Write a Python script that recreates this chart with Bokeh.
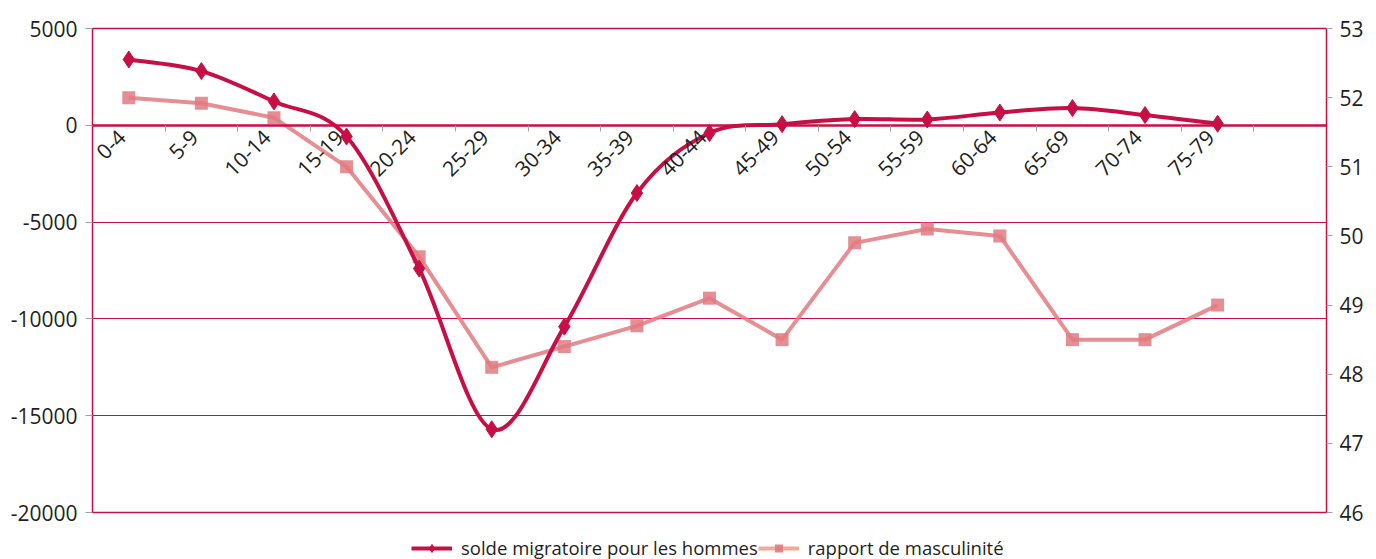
import numpy as np
from bokeh.plotting import figure
from bokeh.layouts import column
from bokeh.models import Range1d, LinearAxis, FixedTicker, Legend, LegendItem
from bokeh.embed import file_html
from bokeh.resources import INLINE

# ---- data ----
age_groups = ["0-4", "5-9", "10-14", "15-19", "20-24", "25-29", "30-34", "35-39",
              "40-44", "45-49", "50-54", "55-59", "60-64", "65-69", "70-74", "75-79"]
solde_hommes = [3400, 2800, 1230, -580, -7400, -15700, -10400, -3500,
                -400, 60, 320, 300, 660, 890, 530, 80]
rapport_masculinite = [52.0, 51.92, 51.71, 51.0, 49.7, 48.1, 48.4, 48.7,
                       49.1, 48.5, 49.9, 50.1, 50.0, 48.5, 48.5, 49.0]
left_ticks = [-20000, -15000, -10000, -5000, 0, 5000]
left_tick_labels = ["-20000", "-15000", "-10000", "-5000", "0", "5000"]
right_ticks = [46, 47, 48, 49, 50, 51, 52, 53]
n_slots = 17

CRIMSON = "#c70f45"
ROSE = "#e07a80"
TXT = "#231f20"
GREY = "#a0a0a0"
FONT = "Open Sans"

xs = [i + 0.5 for i in range(len(age_groups))]
label_pos = [x - 0.1 for x in xs]

p = figure(width=1376, height=525, x_range=Range1d(0, n_slots),
           y_range=Range1d(left_ticks[0], left_ticks[-1]),
           output_backend="svg", toolbar_location=None,
           min_border_left=92, min_border_right=50, min_border_top=28,
           min_border_bottom=13, background_fill_color="white",
           border_fill_color="white")
p.extra_y_ranges = {"right": Range1d(right_ticks[0], right_ticks[-1])}

p.outline_line_color = CRIMSON
p.outline_line_width = 1.5
p.xgrid.visible = False

# left axis
ya = p.yaxis[0]
ya.ticker = FixedTicker(ticks=left_ticks)
ya.major_label_overrides = {t: s for t, s in zip(left_ticks, left_tick_labels)}
ya.axis_line_color = None
ya.major_tick_line_color = GREY
ya.major_tick_out = 7
ya.major_tick_in = 0
ya.minor_tick_line_color = None
ya.major_label_standoff = 8
ya.major_label_text_font = FONT
ya.major_label_text_font_size = "21px"
ya.major_label_text_color = TXT
p.ygrid.grid_line_color = CRIMSON
p.ygrid.grid_line_width = 1

# right axis
ra = LinearAxis(y_range_name="right", ticker=FixedTicker(ticks=right_ticks))
ra.axis_line_color = None
ra.major_tick_line_color = GREY
ra.major_tick_out = 6
ra.major_tick_in = 0
ra.minor_tick_line_color = None
ra.major_label_standoff = 7
ra.major_label_text_font = FONT
ra.major_label_text_font_size = "21px"
ra.major_label_text_color = TXT
p.add_layout(ra, "right")

# category axis crossing at zero
xa = p.xaxis[0]
xa.fixed_location = 0
xa.ticker = FixedTicker(ticks=label_pos, minor_ticks=list(range(1, n_slots)))
xa.major_label_overrides = {x: g for x, g in zip(label_pos, age_groups)}
xa.major_label_orientation = np.pi / 4
xa.major_tick_line_color = None
xa.major_tick_out = 0
xa.major_tick_in = 0
xa.minor_tick_line_color = GREY
xa.minor_tick_out = 6
xa.minor_tick_in = 0
xa.axis_line_color = CRIMSON
xa.axis_line_width = 2.5
xa.major_label_standoff = 2
xa.major_label_text_font = FONT
xa.major_label_text_font_size = "21px"
xa.major_label_text_color = TXT

# rapport de masculinité (right axis)
p.line(xs, rapport_masculinite, y_range_name="right",
       line_color=ROSE, line_width=4, line_alpha=0.85)
p.scatter(xs, rapport_masculinite, y_range_name="right", marker="square",
          size=13, fill_color=ROSE, line_color=None, fill_alpha=0.85)

# solde migratoire (smoothed, Excel-like bezier)
n = len(xs)
x0, y0, x1, y1, cx0, cy0, cx1, cy1 = ([] for _ in range(8))
for i in range(n - 1):
    ip = max(i - 1, 0)
    i2 = min(i + 2, n - 1)
    x0.append(xs[i]); y0.append(solde_hommes[i])
    x1.append(xs[i + 1]); y1.append(solde_hommes[i + 1])
    cx0.append(xs[i] + (xs[i + 1] - xs[ip]) / 6)
    cy0.append(solde_hommes[i] + (solde_hommes[i + 1] - solde_hommes[ip]) / 6)
    cx1.append(xs[i + 1] - (xs[i2] - xs[i]) / 6)
    cy1.append(solde_hommes[i + 1] - (solde_hommes[i2] - solde_hommes[i]) / 6)
p.bezier(x0=x0, y0=y0, x1=x1, y1=y1, cx0=cx0, cy0=cy0, cx1=cx1, cy1=cy1,
         line_color=CRIMSON, line_width=4)
p.scatter(xs, solde_hommes, marker="diamond", size=17,
          fill_color=CRIMSON, line_color=CRIMSON)

# ---- legend strip (separate figure below the chart) ----
pl = figure(width=1376, height=34, x_range=Range1d(0, 1), y_range=Range1d(0, 1),
            output_backend="svg", toolbar_location=None,
            x_axis_location=None, y_axis_location=None,
            min_border_left=0, min_border_right=0, min_border_top=0,
            min_border_bottom=0, outline_line_color=None)
pl.grid.visible = False
# legend proxies: the series themselves, lying outside this strip's view
s_l = pl.line(xs, solde_hommes, line_color=CRIMSON, line_width=4)
s_m = pl.scatter(xs, solde_hommes, marker="diamond", size=13,
                 fill_color=CRIMSON, line_color=CRIMSON)
r_l = pl.line(xs, rapport_masculinite, line_color="#f4a899", line_width=4)
r_m = pl.scatter(xs, rapport_masculinite, marker="square", size=11,
                 fill_color=ROSE, line_color=None, fill_alpha=0.9)

legend = Legend(items=[
    LegendItem(label="solde migratoire pour les hommes", renderers=[s_l, s_m]),
    LegendItem(label="rapport de masculinité", renderers=[r_l, r_m]),
], orientation="horizontal", location=(319, -1))
legend.margin = 0
legend.padding = 0
legend.spacing = 0
legend.glyph_width = 41
legend.glyph_height = 20
legend.label_height = 20
legend.label_standoff = 9
legend.label_text_font = FONT
legend.label_text_font_size = "18.5px"
legend.label_text_color = TXT
legend.background_fill_alpha = 0
legend.border_line_color = None
pl.add_layout(legend, "center")

layout = column(p, pl, spacing=0)
open("out.html", "w").write(file_html(layout, INLINE))
